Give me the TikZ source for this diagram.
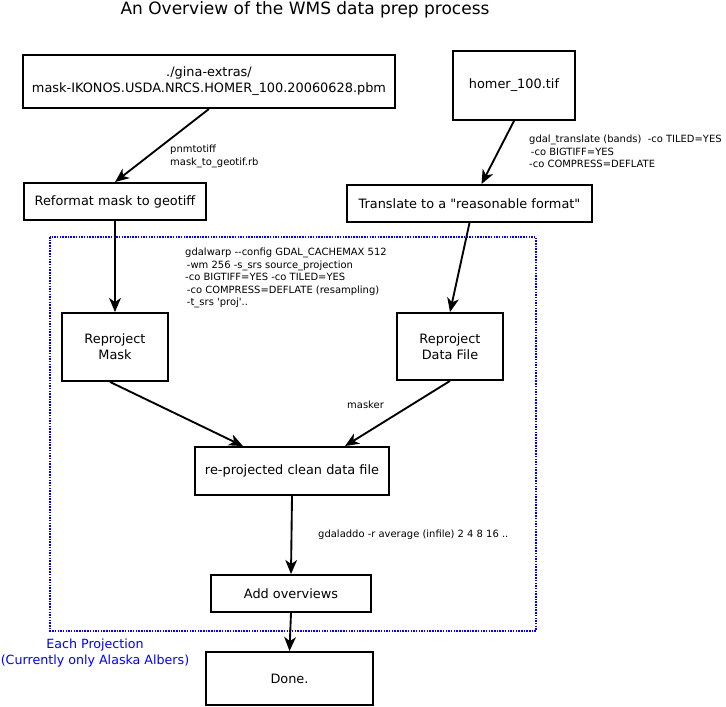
\documentclass[tikz,border=0pt]{standalone}
\usepackage{fontspec}
\setmainfont{DejaVu Sans}
\usepackage{tikz}
\usetikzlibrary{arrows.meta, calc}
\tikzstyle{process} = [rectangle, draw, fill=white, line width=1.6pt,
    align=center, font=\fontsize{11}{13.5}\selectfont, inner sep=0pt]
\tikzstyle{note} = [align=left, anchor=north west, inner sep=0pt,
    font=\fontsize{8.5}{10.6}\selectfont]
\tikzstyle{line} = [draw, line width=1.6pt, -{Stealth[length=12pt, width=10pt, inset=3.5pt]}]
\newcommand{\dq}{\textquotedbl}
\newcommand{\sq}{\textquotesingle}

\begin{document}
\begin{tikzpicture}[x=0.03cm, y=-0.03cm,
    projbox/.style={draw=blue, densely dotted, line width=1.3pt}
    ]
    \useasboundingbox (0,0) rectangle (726,707);
    % Title
    \node [font=\fontsize{14.5}{16}\selectfont] (title) at (305,10) {An Overview of the WMS data prep process};

    % Nodes
    \node [process, minimum width=372*0.03cm, minimum height=53*0.03cm] (mask) at (209,81.5)
        {./gina-extras/\\mask-IKONOS.USDA.NRCS.HOMER\_100.20060628.pbm};
    \node [process, minimum width=122*0.03cm, minimum height=69*0.03cm] (homer) at (514,85.5) {homer\_100.tif};
    \node [process, minimum width=182*0.03cm, minimum height=37*0.03cm] (reformat) at (115,201.5) {Reformat mask to geotiff};
    \node [process, minimum width=245*0.03cm, minimum height=37*0.03cm] (translate) at (469.5,203.5) {Translate to a \dq reasonable format\dq};

    % Projection loop
    \draw [projbox] (50,237) rectangle (536,631);
    \node [process, minimum width=106*0.03cm, minimum height=68*0.03cm] (rmask) at (115,347) {Reproject\\Mask};
    \node [process, minimum width=106*0.03cm, minimum height=67*0.03cm] (rdata) at (450,346.5) {Reproject\\Data File};
    \node [process, minimum width=194*0.03cm, minimum height=48*0.03cm] (clean) at (292,471) {re-projected clean data file};
    \node [process, minimum width=160*0.03cm, minimum height=37*0.03cm] (overviews) at (291,593.5) {Add overviews};
    \node [process, minimum width=167*0.03cm, minimum height=53*0.03cm] (done) at (289.5,678.5) {Done.};
    \node [align=center, text=blue, inner sep=0pt, font=\fontsize{10.8}{13.6}\selectfont] (loopname) at (95,653)
        {Each Projection\\(Currently only Alaska Albers)};

    % Labels
    \node [note] (pnm) at (170,145) {pnmtotiff\\mask\_to\_geotif.rb};
    \node [note] (gdaltr) at (529,135) {gdal\_translate (bands)~ -co TILED=YES\\\hspace{1.5pt}-co BIGTIFF=YES\\-co COMPRESS=DEFLATE};
    \node [note] (warp) at (185,248) {gdalwarp -{}-config GDAL\_CACHEMAX 512\\\hspace{1.5pt}-wm 256 -s\_srs source\_projection\\-co BIGTIFF=YES -co TILED=YES\\\hspace{1.5pt}-co COMPRESS=DEFLATE (resampling)\\\hspace{1.5pt}-t\_srs \sq proj\sq..};
    \node [note] (masker) at (347,401) {masker};
    \node [note] (addo) at (318,530) {gdaladdo -r average (infile) 2 4 8 16 ..};

    % Edges
    \path [line] (mask.south) -- (reformat.north);
    \path [line] (homer.south) -- ([xshift=12*0.03cm]translate.north);
    \path [line] (reformat.south) -- (rmask.north);
    \path [line] (translate.south) -- (rdata.north);
    \path [line] ([xshift=-5*0.03cm]rmask.south) -- ([xshift=-49*0.03cm]clean.north);
    \path [line] (rdata.south) -- ([xshift=53*0.03cm]clean.north);
    \path [line] (clean.south) -- (overviews.north);
    \path [line] (overviews.south) -- (done.north);
\end{tikzpicture}
\end{document}
